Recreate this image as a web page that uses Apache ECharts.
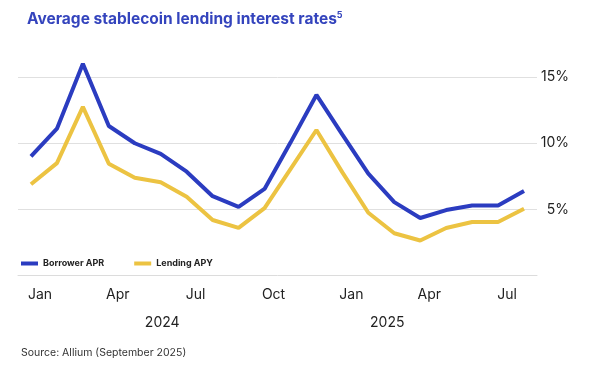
<!DOCTYPE html>
<html>
<head>
<meta charset="utf-8">
<script src="https://cdn.jsdelivr.net/npm/echarts@6/dist/echarts.min.js"></script>
<style>
html,body{margin:0;padding:0;background:#fff;}
#c{width:592px;height:372px;}
</style>
</head>
<body>
<div id="c"></div>
<script>
var months = ['Jan','Feb','Mar','Apr','May','Jun','Jul','Aug','Sep','Oct','Nov','Dec',
              'Jan','Feb','Mar','Apr','May','Jun','Jul','Aug'];
var years = ['2024','2024','2024','2024','2024','2024','2024','2024','2024','2024','2024','2024',
             '2025','2025','2025','2025','2025','2025','2025','2025'];
var monthTickLabels = ['Jan','Apr','Jul','Oct'];
var yearLabelIndex = [5, 14];
var borrowerAPR = [9.0, 11.1, 16.0, 11.3, 10.0, 9.2, 7.85, 6.0, 5.2, 6.55, 10.05, 13.65, 10.65, 7.7, 5.55, 4.35, 4.95, 5.3, 5.3, 6.4];
var lendingAPY  = [6.9, 8.5, 12.75, 8.45, 7.4, 7.05, 5.95, 4.2, 3.6, 5.1, 8.05, 11.0, 7.8, 4.75, 3.2, 2.65, 3.6, 4.05, 4.05, 5.05];
var yTicks = [5, 10, 15];

var chart = echarts.init(document.getElementById('c'), null, {renderer: 'canvas'});
var BLUE = '#2b3cc0', YELLOW = '#ecc342';
chart.setOption({
  animation: false,
  title: {
    text: 'Average stablecoin lending interest rates{s|5}',
    left: 22, top: 6,
    textStyle: {
      fontFamily: 'Inter', fontWeight: 700, fontSize: 15.5, color: '#3444bd',
      rich: { s: { fontFamily: 'Inter', fontWeight: 700, fontSize: 9, color: '#3444bd', verticalAlign: 'top', padding: [0,0,8,0] } }
    }
  },
  legend: {
    left: 16, top: 254, itemWidth: 17, itemHeight: 4, itemGap: 30,
    icon: 'rect',
    textStyle: { fontFamily: 'Inter', fontWeight: 700, fontSize: 9, color: '#222', padding: [0,0,0,0] },
    data: ['Borrower APR', 'Lending APY']
  },
  grid: { left: 18, right: 55, top: 50.6, bottom: 96.4 },
  xAxis: [{
    type: 'category', data: months, boundaryGap: true,
    axisLine: { lineStyle: { color: '#dcdcdc', width: 1 } },
    axisTick: { show: false },
    axisLabel: {
      interval: 0, margin: 12, fontFamily: 'Inter', fontSize: 14, color: '#222',
      padding: [0,0,0,18],
      formatter: function (v) { return monthTickLabels.indexOf(v) >= 0 ? v : ''; }
    }
  }, {
    type: 'category', data: years, boundaryGap: true, position: 'bottom', offset: 29,
    axisLine: { show: false }, axisTick: { show: false },
    axisLabel: {
      interval: 0, margin: 11, fontFamily: 'Inter', fontSize: 14, color: '#222',
      formatter: function (v, i) { return yearLabelIndex.indexOf(i) >= 0 ? (i === 5 ? '{a|' + v + '}' : '{b|' + v + '}') : ''; },
      rich: {
        a: { fontFamily: 'Inter', fontSize: 14, color: '#222', padding: [0,0,0,3] },
        b: { fontFamily: 'Inter', fontSize: 14, color: '#222', padding: [0,14,0,0] }
      }
    }
  }],
  yAxis: {
    type: 'value', position: 'right', min: 0, max: 17, interval: 5,
    axisLine: { show: false }, axisTick: { show: false },
    axisLabel: {
      showMaxLabel: false, margin: 32, align: 'right', fontFamily: 'Inter', fontSize: 14, color: '#222',
      formatter: function (v) { return yTicks.indexOf(v) >= 0 ? v + '%' : ''; }
    },
    splitLine: { showMaxLine: false, showMinLine: false, lineStyle: { color: '#e0e0e0', width: 1 } }
  },
  series: [{
    name: 'Borrower APR', type: 'line', data: borrowerAPR, xAxisIndex: 0,
    symbol: 'none', lineStyle: { width: 4, color: BLUE }, itemStyle: { color: BLUE }
  }, {
    name: 'Lending APY', type: 'line', data: lendingAPY, xAxisIndex: 0,
    symbol: 'none', lineStyle: { width: 4, color: YELLOW }, itemStyle: { color: YELLOW }
  }],
  graphic: [{
    type: 'text', left: 21, top: 347,
    style: { text: 'Source: Allium (September 2025)', fontFamily: 'Inter', fontSize: 10.5, fill: '#333' }
  }]
});
</script>
</body>
</html>
